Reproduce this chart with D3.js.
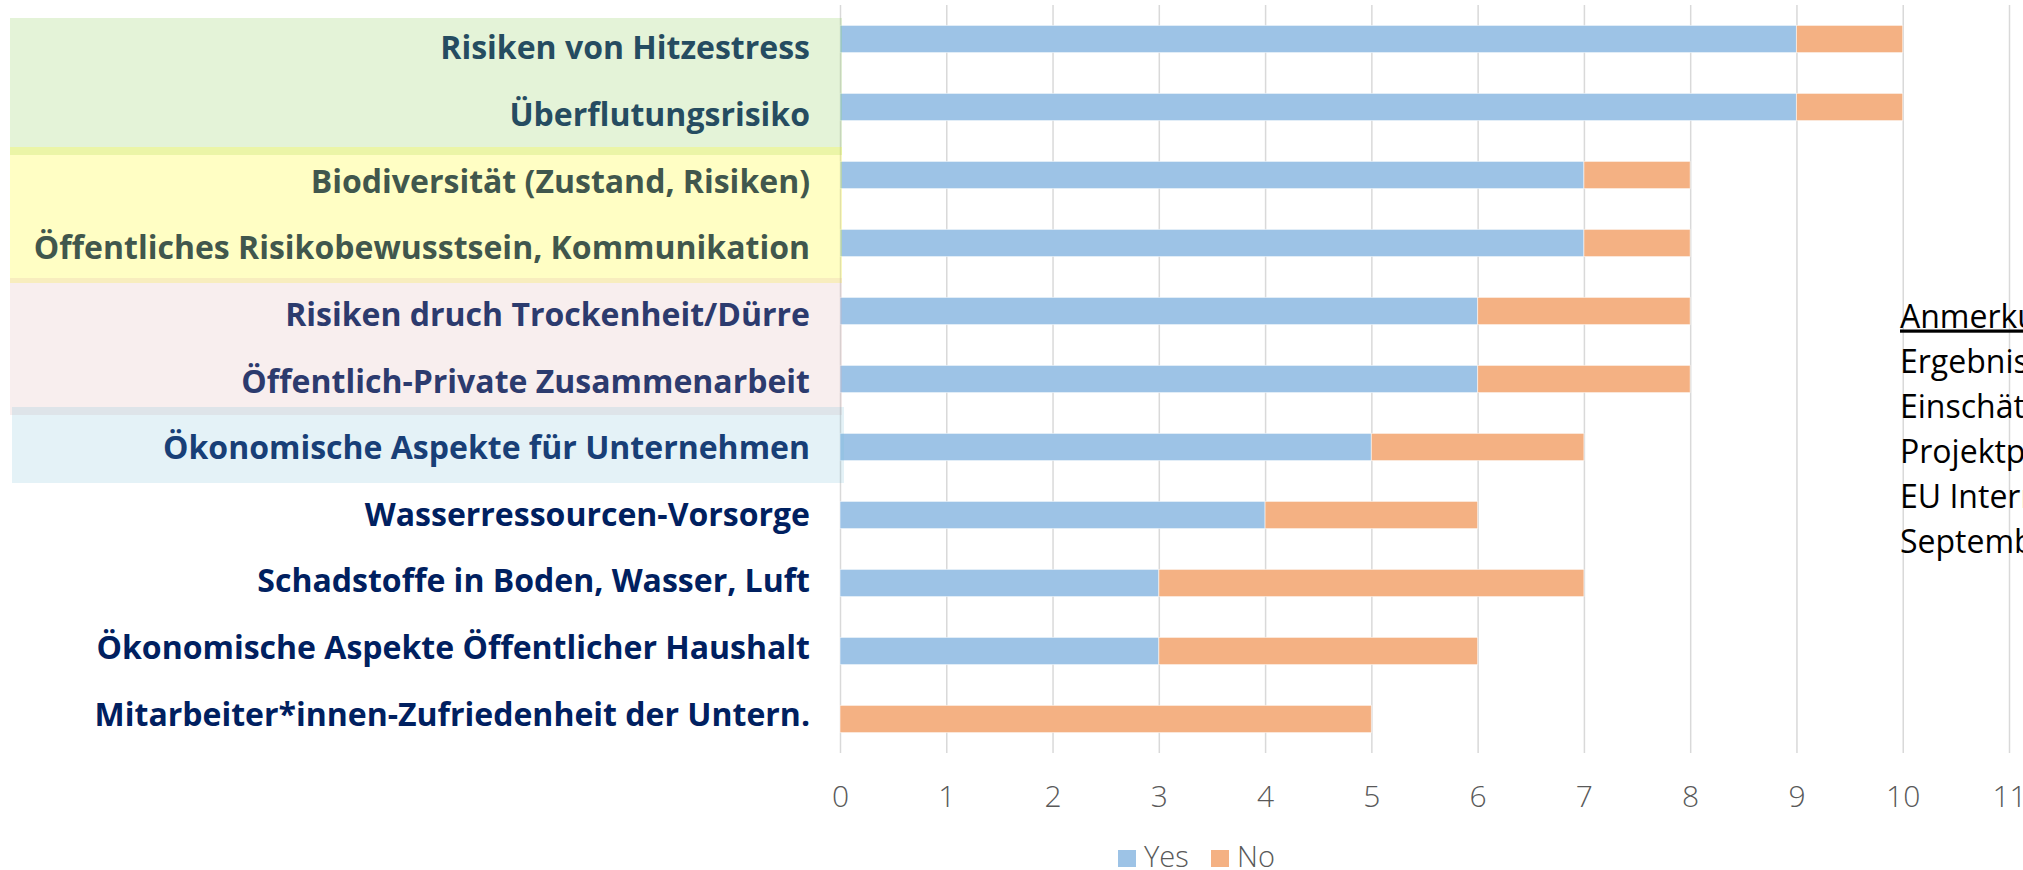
<!DOCTYPE html>
<html lang="de">
  <head>
    <meta charset="UTF-8" />
    <title>Einschätzung Themen</title>
    <script src="https://cdn.jsdelivr.net/npm/d3@7"></script>
    <style>
      body { margin: 0; background: #fff; overflow: hidden; }
      svg { display: block; }
    </style>
  </head>
  <body>
    <svg id="chart" width="2023" height="870"></svg>
    <script>
      // data
      const categories = [
        "Risiken von Hitzestress",
        "Überflutungsrisiko",
        "Biodiversität (Zustand, Risiken)",
        "Öffentliches Risikobewusstsein, Kommunikation",
        "Risiken druch Trockenheit/Dürre",
        "Öffentlich-Private Zusammenarbeit",
        "Ökonomische Aspekte für Unternehmen",
        "Wasserressourcen-Vorsorge",
        "Schadstoffe in Boden, Wasser, Luft",
        "Ökonomische Aspekte Öffentlicher Haushalt",
        "Mitarbeiter*innen-Zufriedenheit der Untern."
      ];
      const yesValues = [9, 9, 7, 7, 6, 6, 5, 4, 3, 3, 0];
      const noValues = [1, 1, 1, 1, 2, 2, 2, 2, 4, 3, 5];
      const seriesNames = ["Yes", "No"];
      const xTicks = [0, 1, 2, 3, 4, 5, 6, 7, 8, 9, 10, 11];
      // category index ranges covered by the coloured boxes
      const groupFirst = [0, 2, 4, 6];
      const groupLast = [1, 3, 5, 6];
      const noteLines = ["Anmerkung:", "Ergebnisse der", "Einschätzung der", "Projektpartner", "EU Interreg", "September"];

      // styles
      const seriesColors = ["#9dc3e6", "#f4b183"];
      const groupStyles = [
        { fill: "rgb(147,207,99)", opacity: 0.25, dTop: 13, dBottom: 14, x0: 10, x1: 842 },
        { fill: "rgb(255,251,19)", opacity: 0.25, dTop: 6, dBottom: 6, x0: 10, x1: 842 },
        { fill: "rgb(220,170,170)", opacity: 0.2, dTop: 1, dBottom: 2, x0: 10, x1: 842 },
        { fill: "rgb(120,190,215)", opacity: 0.2, dTop: -6, dBottom: 2, x0: 12, x1: 844 }
      ];

      const table = categories.map((c, i) => ({ cat: c, Yes: yesValues[i], No: noValues[i] }));

      const svg = d3.select("#chart");
      const plotTop = 5, plotBottom = 753;

      const x = d3.scaleLinear().domain([0, 11]).range([840, 2009]);
      const y = d3.scaleBand()
        .domain(categories)
        .range([plotTop, plotBottom])
        .paddingInner(0.6)
        .paddingOuter(0.3);
      const labelY = d3.scalePoint().domain(categories).range([59.3, 725.7]);
      const color = d3.scaleOrdinal().domain(seriesNames).range(seriesColors);

      // gridlines + tick labels
      const axis = svg.append("g")
        .attr("transform", `translate(0,${plotBottom})`)
        .call(d3.axisBottom(x).tickValues(xTicks).tickSize(-(plotBottom - plotTop)).tickFormat(d3.format("d")));
      axis.select(".domain").remove();
      axis.selectAll(".tick line").attr("stroke", "#d9d9d9").attr("stroke-width", 1.5);
      axis.selectAll(".tick text")
        .attr("y", 53.7)
        .attr("dy", null)
        .attr("fill", "#595959")
        .style("font-family", "'Open Sans', sans-serif")
        .style("font-weight", 300)
        .style("font-size", "30px");

      // stacked bars
      const stacked = d3.stack().keys(seriesNames)(table);
      const step = y.step();
      const barPad = (step - y.bandwidth()) / 2;

      svg.append("g")
        .selectAll("g")
        .data(stacked)
        .join("g")
        .attr("fill", d => color(d.key))
        .selectAll("rect")
        .data(d => d.filter(p => p[1] > p[0]))
        .join("rect")
        .attr("x", d => x(d[0]))
        .attr("width", d => x(d[1]) - x(d[0]))
        .attr("y", d => y(d.data.cat))
        .attr("height", y.bandwidth())
        .attr("stroke", "rgba(255,255,255,0.55)")
        .attr("stroke-width", 1);

      // category labels
      svg.append("g")
        .selectAll("text")
        .data(categories)
        .join("text")
        .attr("x", 810)
        .attr("y", d => labelY(d))
        .attr("text-anchor", "end")
        .attr("fill", "#002060")
        .style("font-family", "'Open Sans', sans-serif")
        .style("font-weight", 700)
        .style("font-size", "32px")
        .text(d => d);

      // translucent group boxes over the labels
      svg.append("g")
        .selectAll("rect")
        .data(groupFirst.map((f, i) => ({ first: f, last: groupLast[i], s: groupStyles[i] })))
        .join("rect")
        .attr("x", d => d.s.x0)
        .attr("width", d => d.s.x1 - d.s.x0)
        .attr("y", d => y(categories[d.first]) - barPad + d.s.dTop)
        .attr("height", d => (y(categories[d.last]) + y.bandwidth() + barPad + d.s.dBottom) - (y(categories[d.first]) - barPad + d.s.dTop))
        .attr("fill", d => d.s.fill)
        .attr("fill-opacity", d => d.s.opacity);

      // legend
      const legend = svg.append("g").attr("transform", "translate(1118,850)");
      const legendItems = legend.selectAll("g")
        .data(seriesNames)
        .join("g")
        .attr("transform", (d, i) => `translate(${i * 93},0)`);
      legendItems.append("rect")
        .attr("width", 18)
        .attr("height", 17)
        .attr("fill", d => color(d));
      legendItems.append("text")
        .attr("x", 26)
        .attr("y", 17)
        .attr("fill", "#595959")
        .style("font-family", "'Open Sans', sans-serif")
        .style("font-weight", 300)
        .style("font-size", "29px")
        .text(d => d);

      // note on the right (cut by the page edge)
      svg.append("g")
        .selectAll("text")
        .data(noteLines)
        .join("text")
        .attr("x", 1900)
        .attr("y", (d, i) => 327.5 + i * 45)
        .attr("fill", "#000")
        .attr("text-decoration", (d, i) => (i === 0 ? "underline" : null))
        .style("font-family", "'Open Sans', sans-serif")
        .style("font-size", "32px")
        .text(d => d);
    </script>
  </body>
</html>
